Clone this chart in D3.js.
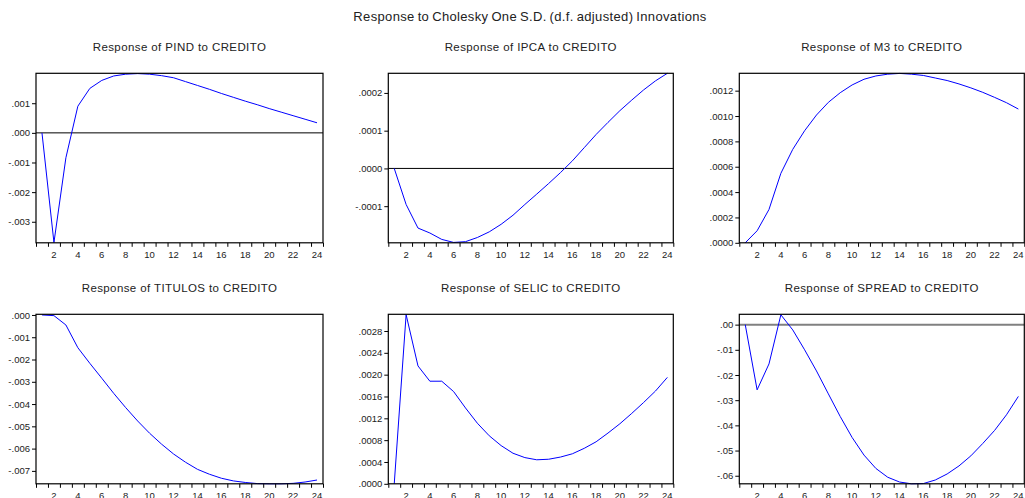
<!DOCTYPE html>
<html>
<head>
<meta charset="utf-8">
<script src="https://cdn.jsdelivr.net/npm/d3@7"></script>
<style>
  body { margin: 0; background: #fff; }
  text { font-family: "Liberation Sans", Arial, sans-serif; fill: #222; }
</style>
</head>
<body>
<div id="chart"></div>
<script>
// periods 1..24
var periods = d3.range(1, 25);
var xTickLabels = ["2","4","6","8","10","12","14","16","18","20","22","24"];

var titles = ["Response of PIND to CREDITO", "Response of IPCA to CREDITO", "Response of M3 to CREDITO",
              "Response of TITULOS to CREDITO", "Response of SELIC to CREDITO", "Response of SPREAD to CREDITO"];

var pind = [0, -0.0037, -0.00084, 0.0009, 0.0015, 0.00177, 0.00192, 0.00198, 0.002, 0.00198, 0.00193, 0.00186,
            0.00173, 0.0016, 0.00147, 0.00133, 0.0012, 0.00107, 0.00095, 0.00082, 0.0007, 0.00058, 0.00046, 0.00034];
var ipca = [0, -0.0000955, -0.000158, -0.000171, -0.000188, -0.000196, -0.000194, -0.000183, -0.000168, -0.000148,
            -0.000124, -0.0000955, -0.000068, -0.00004, -0.000011, 0.00002, 0.000055, 0.00009, 0.000122, 0.000153,
            0.000181, 0.000208, 0.000232, 0.000252];
var m3 = [0, 0.000095, 0.000263, 0.000548, 0.000737, 0.000884, 0.001008, 0.001108, 0.001184, 0.001245, 0.00129, 0.001316,
          0.00133, 0.001336, 0.00133, 0.00132, 0.0013, 0.00128, 0.001253, 0.001222, 0.001187, 0.001147, 0.001105, 0.001055];
var titulos = [0, -0.00003, -0.00045, -0.00147, -0.00217, -0.00284, -0.00352, -0.00416, -0.00476, -0.00531, -0.0058, -0.00624,
               -0.00661, -0.00693, -0.00715, -0.00733, -0.00745, -0.00752, -0.00757, -0.00758, -0.00758, -0.00756, -0.0075, -0.00741];
var selic = [0, 0.0031, 0.00216, 0.00188, 0.00188, 0.00169, 0.00139, 0.00111, 0.00088, 0.0007, 0.00056, 0.00048,
             0.00044, 0.00045, 0.00049, 0.00055, 0.00065, 0.00077, 0.00093, 0.0011, 0.00129, 0.00149, 0.0017, 0.00195];
var spread = [0, -0.0259, -0.0156, 0.0039, -0.0021, -0.01, -0.0184, -0.0275, -0.0365, -0.0448, -0.0518, -0.0571,
              -0.0606, -0.0625, -0.0632, -0.0631, -0.0617, -0.0593, -0.0561, -0.0521, -0.0472, -0.042, -0.0358, -0.0285];

// y tick values and labels per panel
var yTicks1 = [0.001, 0, -0.001, -0.002, -0.003];
var yLabels1 = [".001", ".000", "-.001", "-.002", "-.003"];
var yTicks2 = [0.0002, 0.0001, 0, -0.0001];
var yLabels2 = [".0002", ".0001", ".0000", "-.0001"];
var yTicks3 = [0.0012, 0.001, 0.0008, 0.0006, 0.0004, 0.0002, 0];
var yLabels3 = [".0012", ".0010", ".0008", ".0006", ".0004", ".0002", ".0000"];
var yTicks4 = [0, -0.001, -0.002, -0.003, -0.004, -0.005, -0.006, -0.007];
var yLabels4 = [".000", "-.001", "-.002", "-.003", "-.004", "-.005", "-.006", "-.007"];
var yTicks5 = [0.0028, 0.0024, 0.002, 0.0016, 0.0012, 0.0008, 0.0004, 0];
var yLabels5 = [".0028", ".0024", ".0020", ".0016", ".0012", ".0008", ".0004", ".0000"];
var yTicks6 = [0, -0.01, -0.02, -0.03, -0.04, -0.05, -0.06];
var yLabels6 = [".00", "-.01", "-.02", "-.03", "-.04", "-.05", "-.06"];

var W = 1025, H = 498;
var svg = d3.select("#chart").append("svg").attr("width", W).attr("height", H);

svg.append("text")
  .attr("x", 530).attr("y", 21)
  .attr("text-anchor", "middle")
  .style("font-size", "13px")
  .style("letter-spacing", "0.35px")
  .style("word-spacing", "-1px")
  .text("Response to Cholesky One S.D. (d.f. adjusted) Innovations");

var panels = [
  {series: pind, ticks: yTicks1, labels: yLabels1, dom: [-0.00371, 0.00201], x: 36, y: 73.3, w: 287, zero: "black"},
  {series: ipca, ticks: yTicks2, labels: yLabels2, dom: [-0.000197, 0.000252], x: 388.3, y: 73.3, w: 285, zero: "black"},
  {series: m3, ticks: yTicks3, labels: yLabels3, dom: [0, 0.001337], x: 739.3, y: 73.3, w: 285, zero: null},
  {series: titulos, ticks: yTicks4, labels: yLabels4, dom: [-0.00758, 0.00003], x: 36, y: 314.3, w: 287, zero: null},
  {series: selic, ticks: yTicks5, labels: yLabels5, dom: [0, 0.003106], x: 388.3, y: 314.3, w: 285, zero: null},
  {series: spread, ticks: yTicks6, labels: yLabels6, dom: [-0.0632, 0.0041], x: 739.3, y: 314.3, w: 285, zero: "gray"}
];
var ph = 169.5;

panels.forEach(function(p, i) {
  var g = svg.append("g").attr("transform", "translate(" + p.x + "," + p.y + ")");

  var x = d3.scaleLinear().domain([0.5, 24.5]).range([0, p.w]);
  var y = d3.scaleLinear().domain(p.dom).range([ph, 0]);

  // subtitle
  g.append("text")
    .attr("x", p.w / 2).attr("y", -22)
    .attr("text-anchor", "middle")
    .style("font-size", "11.5px")
    .style("letter-spacing", "0.4px")
    .text(titles[i]);

  // zero line
  if (p.zero === "black") {
    g.append("line")
      .attr("x1", 0).attr("x2", p.w)
      .attr("y1", y(0)).attr("y2", y(0))
      .attr("stroke", "#000").attr("stroke-width", 1);
  } else if (p.zero === "gray") {
    g.append("line")
      .attr("x1", 0).attr("x2", p.w)
      .attr("y1", y(0)).attr("y2", y(0))
      .attr("stroke", "#808080").attr("stroke-width", 2);
  }

  // the response line
  g.append("path")
    .datum(p.series)
    .attr("fill", "none")
    .attr("stroke", "#0000ff")
    .attr("stroke-width", 1)
    .attr("d", d3.line()
      .x(function(d, k) { return x(periods[k]); })
      .y(function(d) { return y(d); }));

  // box
  g.append("rect")
    .attr("x", 0).attr("y", 0)
    .attr("width", p.w).attr("height", ph)
    .attr("fill", "none").attr("stroke", "#000").attr("stroke-width", 1.2);

  // bottom axis: ticks at period boundaries, labels on even periods
  var xAxis = d3.axisBottom(x)
    .tickValues(d3.range(0.5, 25, 1))
    .tickSize(4)
    .tickFormat("");
  var xa = g.append("g").attr("transform", "translate(0," + ph + ")").call(xAxis);
  xa.select(".domain").remove();
  xa.selectAll("line").attr("stroke", "#000");

  g.selectAll(".xl")
    .data(xTickLabels)
    .enter().append("text")
    .attr("class", "xl")
    .attr("x", function(d) { return x(+d); })
    .attr("y", ph + 15)
    .attr("text-anchor", "middle")
    .style("font-size", "9.5px")
    .text(function(d) { return d; });

  // left axis
  var yAxis = d3.axisLeft(y)
    .tickValues(p.ticks)
    .tickSize(4)
    .tickPadding(2)
    .tickFormat(function(d, k) { return p.labels[k]; });
  var ya = g.append("g").call(yAxis);
  ya.select(".domain").remove();
  ya.selectAll("line").attr("stroke", "#000");
  ya.selectAll("text")
    .style("font-size", "9.5px")
    .style("font-family", "'Liberation Sans', Arial, sans-serif")
    .attr("fill", "#222");
});
</script>
</body>
</html>
